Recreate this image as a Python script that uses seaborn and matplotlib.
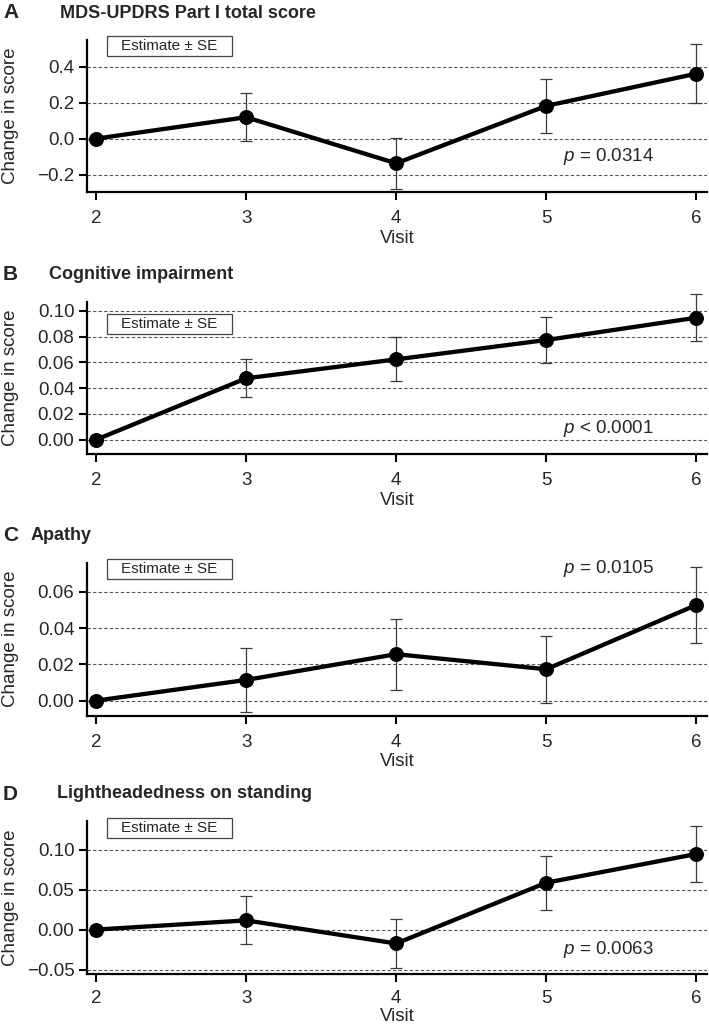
import numpy as np
import pandas as pd
import seaborn as sns
import matplotlib.pyplot as plt
from matplotlib.patches import Rectangle

visits = [2, 3, 4, 5, 6]

updrs_est = [0.0, 0.119, -0.137, 0.182, 0.361]
updrs_se = [0.0, 0.133, 0.140, 0.152, 0.165]
cog_est = [0.0, 0.0476, 0.0623, 0.0773, 0.0946]
cog_se = [0.0, 0.0147, 0.0170, 0.0176, 0.0180]
apathy_est = [0.0, 0.0114, 0.0256, 0.0173, 0.0527]
apathy_se = [0.0, 0.0177, 0.0195, 0.0184, 0.0207]
light_est = [0.0, 0.0115, -0.0174, 0.0587, 0.0947]
light_se = [0.0, 0.030, 0.031, 0.034, 0.035]

letters = ['A', 'B', 'C', 'D']
titles = ['MDS-UPDRS Part I total score', 'Cognitive impairment', 'Apathy',
          'Lightheadedness on standing']
p_texts = ['$p$ = 0.0314', '$p$ < 0.0001', '$p$ = 0.0105', '$p$ = 0.0063']
y_ticks = [[-0.2, 0.0, 0.2, 0.4],
           [0.0, 0.02, 0.04, 0.06, 0.08, 0.10],
           [0.0, 0.02, 0.04, 0.06],
           [-0.05, 0.0, 0.05, 0.10]]
y_fmt = ['{:.1f}', '{:.2f}', '{:.2f}', '{:.2f}']

sns.set_style('ticks')
plt.rcParams['font.family'] = ['Liberation Sans', 'DejaVu Sans']
plt.rcParams['mathtext.fontset'] = 'custom'
plt.rcParams['mathtext.rm'] = 'Liberation Sans'
plt.rcParams['mathtext.it'] = 'Liberation Sans:italic'

W, H = 709, 1030
fig = plt.figure(figsize=(7.09, 10.30), dpi=100)

# layout in pixels: (axes top, axes bottom, title x, legend box centre y (axes frac),
# p position, xlabel y, x tick pad)
layout = [
    (40.0, 192.3, 60, 0.961, (0.768, 0.234), -0.245, 7),
    (301.7, 454.3, 49, 0.853, (0.768, 0.170), -0.245, 7),
    (562.7, 715.7, 31, 0.959, (0.768, 0.959), -0.245, 7),
    (821.0, 973.5, 57, 0.954, (0.768, 0.156), -0.228, 6),
]
ylims = [(-0.298, 0.548), (-0.0113, 0.107), (-0.0083, 0.076), (-0.055, 0.136)]
ests = [updrs_est, cog_est, apathy_est, light_est]
ses = [updrs_se, cog_se, apathy_se, light_se]

ax_left, ax_right = 87, 707
for i in range(4):
    top, bottom, tx, box_y, p_pos, xl_y, xpad = layout[i]
    ax = fig.add_axes([ax_left / W, 1 - bottom / H, (ax_right - ax_left) / W, (bottom - top) / H])
    ax.set_axisbelow(True)
    ax.yaxis.grid(True, linestyle=(0, (3, 2)), color='#555555', lw=0.8)

    ax.errorbar(visits[1:], ests[i][1:], yerr=ses[i][1:], fmt='none', ecolor='#3a3a3a',
                elinewidth=0.9, capsize=4.3, capthick=0.9, zorder=2, clip_on=False)
    sns.lineplot(x=visits, y=ests[i], ax=ax, color='black', lw=3.1, marker='o',
                 markersize=10, markeredgecolor='black', zorder=3)

    ax.set_xlim(1.94, 6.071)
    ax.set_ylim(*ylims[i])
    ax.set_xticks(visits)
    ax.set_xticklabels([str(v) for v in visits])
    ax.set_yticks(y_ticks[i])
    ax.set_yticklabels([y_fmt[i].format(t).replace('-', '\u2212') for t in y_ticks[i]])
    ax.tick_params(axis='both', labelsize=13.5, length=6, width=1.5, color='black')
    ax.tick_params(axis='x', pad=xpad)
    ax.tick_params(axis='y', pad=3)
    for side in ['top', 'right']:
        ax.spines[side].set_visible(False)
    for side in ['left', 'bottom']:
        ax.spines[side].set_linewidth(1.6)
        ax.spines[side].set_color('black')

    ax.set_ylabel('Change in score', fontsize=13.5)
    ax.yaxis.set_label_coords(-0.110, 0.5)
    ax.set_xlabel('Visit', fontsize=13.5)
    ax.xaxis.set_label_coords(0.5, xl_y)

    # legend-like box
    bw, bh = 0.2016, 0.131
    ax.add_patch(Rectangle((0.0323, box_y - bh / 2), bw, bh, transform=ax.transAxes,
                           fill=False, lw=0.9, edgecolor='#444444', clip_on=False))
    ax.text(0.0323 + bw / 2, box_y, 'Estimate \u00b1 SE', transform=ax.transAxes,
            ha='center', va='center', fontsize=11)

    ax.text(p_pos[0], p_pos[1], p_texts[i], transform=ax.transAxes, ha='left',
            va='center', fontsize=13.5)

    ty = 1 - (top - 27) / H
    fig.text(3 / W, ty, letters[i], fontsize=15, fontweight='bold', ha='left', va='center')
    fig.text(tx / W, ty, titles[i], fontsize=13, fontweight='bold', ha='left', va='center')

fig.savefig('out.png', dpi=100)
